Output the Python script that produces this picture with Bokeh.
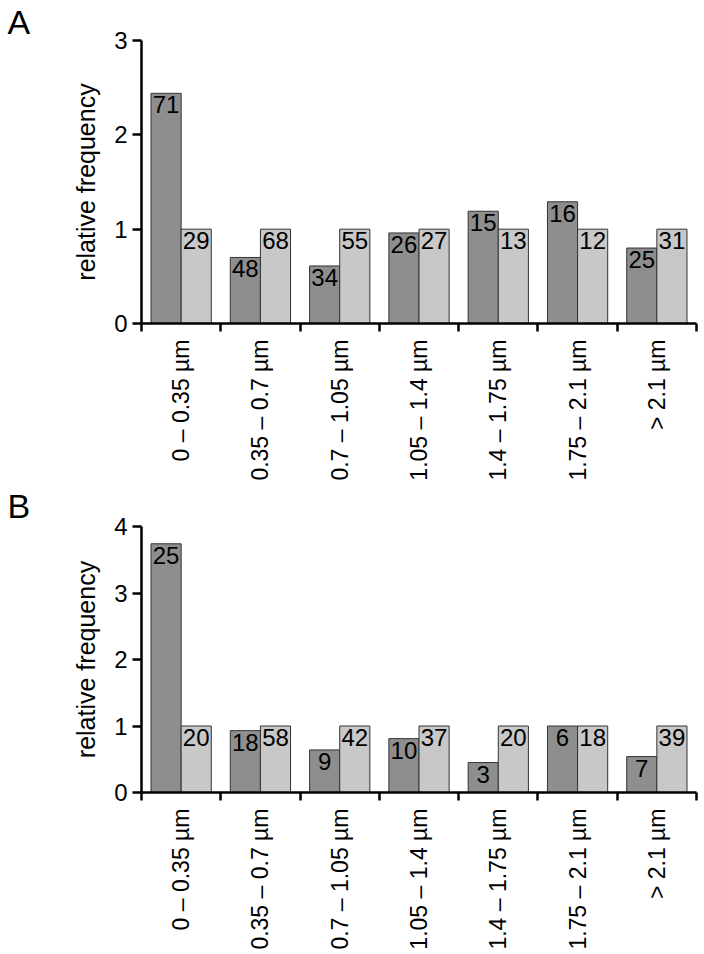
import math
from bokeh.plotting import figure
from bokeh.models import ColumnDataSource, Range1d, FixedTicker, Title
from bokeh.layouts import column
from bokeh.transform import dodge
from bokeh.core.properties import value
from bokeh.embed import file_html
from bokeh.resources import INLINE

categories = ["0 – 0.35 µm", "0.35 – 0.7 µm", "0.7 – 1.05 µm", "1.05 – 1.4 µm",
              "1.4 – 1.75 µm", "1.75 – 2.1 µm", "> 2.1 µm"]

a_dark = [2.44, 0.70, 0.61, 0.96, 1.19, 1.29, 0.80]
a_light = [1.0, 1.0, 1.0, 1.0, 1.0, 1.0, 1.0]
a_dark_n = ["71", "48", "34", "26", "15", "16", "25"]
a_light_n = ["29", "68", "55", "27", "13", "12", "31"]

b_dark = [3.74, 0.93, 0.64, 0.81, 0.45, 1.0, 0.54]
b_light = [1.0, 1.0, 1.0, 1.0, 1.0, 1.0, 1.0]
b_dark_n = ["25", "18", "9", "10", "3", "6", "7"]
b_light_n = ["20", "58", "42", "37", "20", "18", "39"]

a_yticks = [0, 1, 2, 3]
b_yticks = [0, 1, 2, 3, 4]

FONT = "Liberation Sans"
DARK = "#8e8e8e"
LIGHT = "#c8c8c8"
BAR_W = 0.38
LEFT = 141


def make_panel(letter, dark, light, dark_n, light_n, yticks, height,
               top_border, bottom_border, letter_standoff):
    centers = [i + 0.5 for i in range(len(categories))]
    src = ColumnDataSource(dict(x=centers, dark=dark, light=light,
                                dn=dark_n, ln=light_n))
    p = figure(width=700, height=height, output_backend="svg",
               toolbar_location=None,
               x_range=Range1d(0, len(categories)),
               y_range=Range1d(yticks[0], yticks[-1]),
               min_border_left=LEFT, min_border_right=4,
               min_border_top=top_border, min_border_bottom=bottom_border)
    p.outline_line_color = None
    p.grid.visible = False
    p.background_fill_color = "white"
    p.border_fill_color = "white"

    p.vbar(x=dodge("x", -BAR_W / 2), top="dark", width=BAR_W, bottom=0,
           source=src, fill_color=DARK, line_color="#333333", line_width=1)
    p.vbar(x=dodge("x", BAR_W / 2), top="light", width=BAR_W, bottom=0,
           source=src, fill_color=LIGHT, line_color="#333333", line_width=1)

    for xcol, ycol, tcol in ((dodge("x", -BAR_W / 2), "dark", "dn"),
                             (dodge("x", BAR_W / 2), "light", "ln")):
        p.text(x=xcol, y=ycol, text=tcol, source=src,
               text_align="center", text_baseline="top", y_offset=3,
               text_font=value(FONT), text_font_size="24px",
               text_color="black")

    # x axis
    xa = p.xaxis[0]
    xa.ticker = FixedTicker(ticks=centers, minor_ticks=list(range(len(categories) + 1)))
    xa.major_label_overrides = {c: lab for c, lab in zip(centers, categories)}
    xa.major_tick_out = 0
    xa.major_tick_in = 0
    xa.minor_tick_out = 8
    xa.minor_tick_in = 0
    xa.minor_tick_line_width = 2.5
    xa.minor_tick_line_color = "black"
    xa.axis_line_width = 2.5
    xa.axis_line_color = "black"
    xa.major_label_orientation = math.pi / 2
    xa.major_label_standoff = 8
    xa.major_label_text_font = FONT
    xa.major_label_text_font_size = "23px"
    xa.major_label_text_color = "black"

    # y axis
    ya = p.yaxis[0]
    ya.ticker = FixedTicker(ticks=yticks, minor_ticks=[])
    ya.major_tick_out = 9
    ya.major_tick_in = 0
    ya.major_tick_line_width = 2.5
    ya.major_tick_line_color = "black"
    ya.axis_line_width = 2.5
    ya.axis_line_color = "black"
    ya.major_label_standoff = 5
    ya.major_label_text_font = FONT
    ya.major_label_text_font_size = "24px"
    ya.major_label_text_color = "black"
    ya.axis_label = "relative frequency"
    ya.axis_label_text_font = FONT
    ya.axis_label_text_font_style = "normal"
    ya.axis_label_text_font_size = "25px"
    ya.axis_label_text_color = "black"
    ya.axis_label_standoff = 11

    p.add_layout(Title(text=letter, align="left", offset=-(LEFT - 7),
                       standoff=letter_standoff, text_font=FONT,
                       text_font_size="34px", text_font_style="normal",
                       text_color="black"), "above")
    return p


pA = make_panel("A", a_dark, a_light, a_dark_n, a_light_n, a_yticks,
                height=483, top_border=39, bottom_border=153, letter_standoff=0)
pB = make_panel("B", b_dark, b_light, b_dark_n, b_light_n, b_yticks,
                height=469, top_border=39, bottom_border=140, letter_standoff=3)

layout = column(pA, pB, spacing=0)
open("out.html", "w").write(file_html(layout, INLINE))
